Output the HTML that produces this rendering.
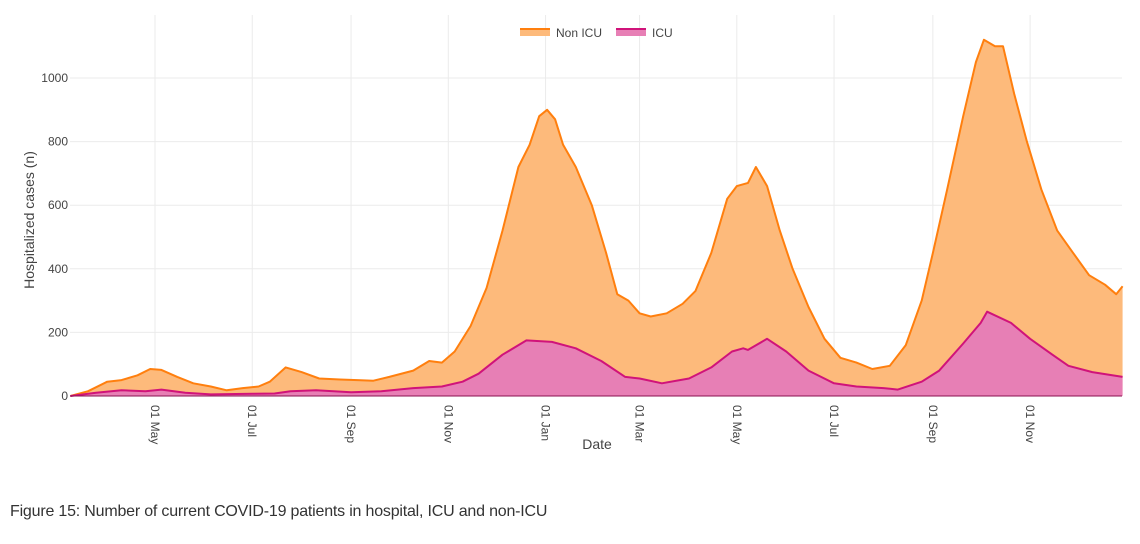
<!DOCTYPE html>
<html><head><meta charset="utf-8"><style>
body{margin:0;background:#fff;width:1140px;height:544px;overflow:hidden;font-family:"Liberation Sans",sans-serif}
svg{position:absolute;left:0;top:0}
#cap{position:absolute;left:10px;top:503px;font-size:16px;color:#333;letter-spacing:-0.2px}
</style></head><body>
<svg id="chart" width="1140" height="544"></svg>
<div id="cap">Figure 15: Number of current COVID-19 patients in hospital, ICU and non-ICU</div>
<script>
const totalDates=["2020-03-09","2020-03-20","2020-04-01","2020-04-10","2020-04-20","2020-04-28","2020-05-05","2020-05-15","2020-05-25","2020-06-05","2020-06-15","2020-06-25","2020-07-05","2020-07-12","2020-07-22","2020-08-01","2020-08-12","2020-08-25","2020-09-05","2020-09-15","2020-09-25","2020-10-10","2020-10-20","2020-10-28","2020-11-05","2020-11-15","2020-11-25","2020-12-05","2020-12-15","2020-12-22","2020-12-28","2021-01-02","2021-01-07","2021-01-12","2021-01-20","2021-01-30","2021-02-08","2021-02-15","2021-02-22","2021-03-01","2021-03-08","2021-03-18","2021-03-28","2021-04-05","2021-04-15","2021-04-25","2021-05-01","2021-05-08","2021-05-13","2021-05-20","2021-05-28","2021-06-05","2021-06-15","2021-06-25","2021-07-05","2021-07-15","2021-07-25","2021-08-05","2021-08-15","2021-08-25","2021-09-01","2021-09-10","2021-09-20","2021-09-28","2021-10-03","2021-10-10","2021-10-15","2021-10-22","2021-10-30","2021-11-08","2021-11-18","2021-11-28","2021-12-08","2021-12-18","2021-12-25","2021-12-29"];
const totalValues=[0,15,45,50,65,85,82,60,40,30,18,25,30,45,90,75,55,52,50,48,60,80,110,105,140,220,340,520,720,790,880,900,870,790,720,600,450,320,300,260,250,260,290,330,450,620,660,670,720,660,520,400,280,180,120,105,85,95,160,300,450,650,880,1050,1120,1100,1100,950,800,650,520,450,380,350,320,345];
const icuDates=["2020-03-09","2020-03-25","2020-04-10","2020-04-25","2020-05-05","2020-05-20","2020-06-05","2020-07-01","2020-07-15","2020-07-25","2020-08-10","2020-09-01","2020-09-20","2020-10-10","2020-10-28","2020-11-10","2020-11-20","2020-12-05","2020-12-20","2021-01-05","2021-01-20","2021-02-05","2021-02-20","2021-03-01","2021-03-15","2021-04-01","2021-04-15","2021-04-28","2021-05-05","2021-05-08","2021-05-20","2021-06-01","2021-06-15","2021-07-01","2021-07-15","2021-08-01","2021-08-10","2021-08-25","2021-09-05","2021-09-20","2021-10-01","2021-10-05","2021-10-20","2021-11-01","2021-11-15","2021-11-25","2021-12-10","2021-12-29"];
const icuValues=[0,10,18,15,20,10,5,7,8,15,18,12,15,25,30,45,70,130,175,170,150,110,60,55,40,55,90,140,150,145,180,140,80,40,30,25,20,45,80,165,230,265,230,180,130,95,75,60];
const yTicks=[0,200,400,600,800,1000];
const xTickDates=["2020-05-01","2020-07-01","2020-09-01","2020-11-01","2021-01-01","2021-03-01","2021-05-01","2021-07-01","2021-09-01","2021-11-01"];
const xTickLabels=["01 May","01 Jul","01 Sep","01 Nov","01 Jan","01 Mar","01 May","01 Jul","01 Sep","01 Nov"];

const NS="http://www.w3.org/2000/svg";
const svg=document.getElementById('chart');
const L=70,R=1122,Y0=396,Y1000=78;
const base=Date.UTC(2020,4,1), DAY=86400000;
function x(d){const t=Date.parse(d+"T00:00:00Z");return 155+1.594*(t-base)/DAY;}
function y(v){return Y0-(Y0-Y1000)*v/1000;}
function el(tag,attrs,parent){const e=document.createElementNS(NS,tag);for(const k in attrs)e.setAttribute(k,attrs[k]);(parent||svg).appendChild(e);return e;}

yTicks.forEach(v=>{
  const g=el('line',{x1:L,x2:R,y1:y(v),y2:y(v),stroke:'#ebebeb','stroke-width':1});
  
  
  const t=el('text',{x:68,y:y(v)+4,'text-anchor':'end','font-size':12,fill:'#444'});
  t.textContent=v;
  
  
});
xTickDates.forEach((d,i)=>{
  const g=el('line',{x1:x(d),x2:x(d),y1:15,y2:Y0,stroke:'#ebebeb','stroke-width':1});
  
  
  const t=el('text',{x:0,y:0,'font-size':12,fill:'#444',transform:`translate(${x(d)-4},405) rotate(90)`});
  t.textContent=xTickLabels[i];
  
  
});
function area(dates,vals,fill,stroke,name){
  let p=`M${x(dates[0])},${Y0}`;
  let l='';
  dates.forEach((d,i)=>{p+=`L${x(d).toFixed(1)},${y(vals[i]).toFixed(1)}`;l+=(i?'L':'M')+`${x(d).toFixed(1)},${y(vals[i]).toFixed(1)}`;});
  p+=`L${x(dates[dates.length-1])},${Y0}Z`;
  const a=el('path',{d:p,fill:fill});
  
  
  const ln=el('path',{d:l,fill:'none',stroke:stroke,'stroke-width':2,'stroke-linejoin':'round'});
  
  
}
area(totalDates,totalValues,'#fdba7b','#ff7f0e','non-icu');
area(icuDates,icuValues,'#e77fb5','#d0137a','icu');
el('line',{x1:L,x2:R,y1:Y0,y2:Y0,stroke:'#8a1050','stroke-width':1});

const yt=el('text',{x:0,y:0,'font-size':14,fill:'#444','text-anchor':'middle',transform:'translate(34,220) rotate(-90)'});
yt.textContent='Hospitalized cases (n)';


const xt=el('text',{x:597,y:449,'font-size':14,fill:'#444','text-anchor':'middle'});
xt.textContent='Date';



const lg=el('g',{});


const s1=el('rect',{x:520,y:28,width:30,height:8,fill:'#fdba7b'},lg);
el('line',{x1:520,x2:550,y1:29,y2:29,stroke:'#ff7f0e','stroke-width':2},lg);


const t1=el('text',{x:556,y:37,'font-size':12,fill:'#444'},lg);
t1.textContent='Non ICU';


const s2=el('rect',{x:616,y:28,width:30,height:8,fill:'#e77fb5'},lg);
el('line',{x1:616,x2:646,y1:29,y2:29,stroke:'#d0137a','stroke-width':2},lg);


const t2=el('text',{x:652,y:37,'font-size':12,fill:'#444'},lg);
t2.textContent='ICU';


</script>
</body></html>
